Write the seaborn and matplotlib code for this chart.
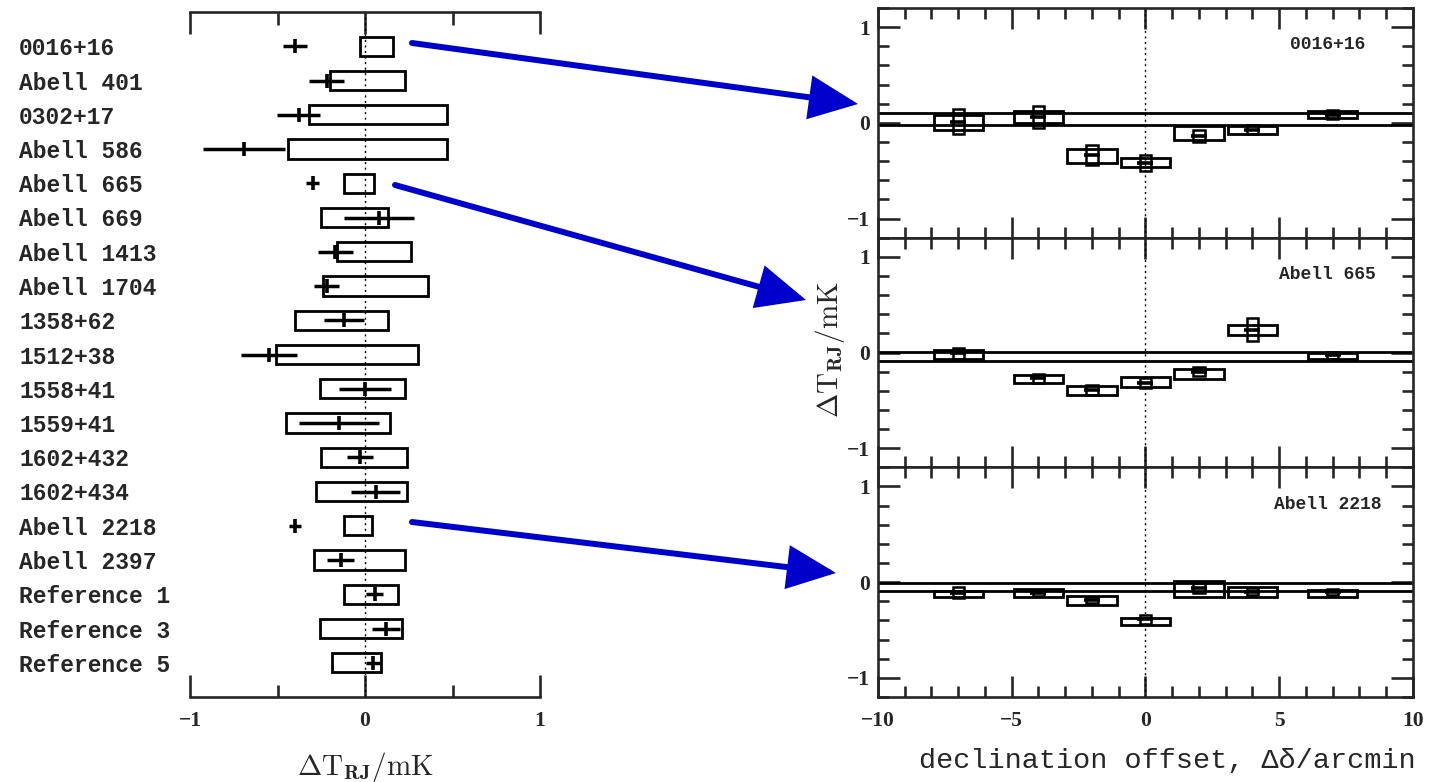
import numpy as np
import pandas as pd
import matplotlib
matplotlib.use("Agg")
import matplotlib.pyplot as plt
from matplotlib.patches import FancyArrowPatch, ArrowStyle
from matplotlib.ticker import MultipleLocator, FixedLocator
import seaborn as sns

# ---- cluster summary (left panel) ----
sources = ["0016+16", "Abell 401", "0302+17", "Abell 586", "Abell 665",
           "Abell 669", "Abell 1413", "Abell 1704", "1358+62", "1512+38",
           "1558+41", "1559+41", "1602+432", "1602+434", "Abell 2218",
           "Abell 2397", "Reference 1", "Reference 3", "Reference 5"]
model_lo = [-0.03, -0.20, -0.32, -0.44, -0.12, -0.25, -0.16, -0.24, -0.40, -0.51,
            -0.26, -0.45, -0.25, -0.28, -0.12, -0.29, -0.12, -0.26, -0.19]
model_hi = [0.16, 0.23, 0.47, 0.47, 0.05, 0.13, 0.26, 0.36, 0.13, 0.30,
            0.23, 0.14, 0.24, 0.24, 0.04, 0.23, 0.19, 0.21, 0.09]
dT = [-0.40, -0.22, -0.38, -0.69, -0.30, 0.08, -0.17, -0.22, -0.12, -0.55,
      0.00, -0.15, -0.03, 0.06, -0.40, -0.14, 0.055, 0.12, 0.045]
dT_err = [0.07, 0.10, 0.125, 0.235, 0.035, 0.20, 0.10, 0.07, 0.115, 0.16,
          0.15, 0.23, 0.075, 0.14, 0.035, 0.075, 0.05, 0.078, 0.04]

# ---- declination scans (right panels) ----
offsets = [-7, -4, -2, 0, 2, 4, 7]
scan_names = ["0016+16", "Abell 665", "Abell 2218"]

a0016_lo = [-0.07, 0.00, -0.42, -0.46, -0.18, -0.12, 0.05]
a0016_hi = [0.08, 0.12, -0.27, -0.37, -0.03, -0.035, 0.12]
a0016_val = [0.01, 0.06, -0.34, -0.42, -0.14, -0.07, 0.087]
a0016_err = [0.13, 0.115, 0.105, 0.08, 0.06, 0.045, 0.05]
a0016_band = [-0.02, 0.10]

a665_lo = [-0.07, -0.32, -0.44, -0.36, -0.28, 0.18, -0.065]
a665_hi = [0.025, -0.23, -0.35, -0.26, -0.17, 0.285, 0.00]
a665_val = [-0.01, -0.27, -0.39, -0.32, -0.20, 0.24, -0.03]
a665_err = [0.06, 0.05, 0.05, 0.05, 0.045, 0.12, 0.035]
a665_band = [-0.09, 0.01]

a2218_lo = [-0.16, -0.15, -0.235, -0.445, -0.15, -0.15, -0.15]
a2218_hi = [-0.09, -0.07, -0.14, -0.375, 0.01, -0.05, -0.08]
a2218_val = [-0.11, -0.11, -0.185, -0.39, -0.06, -0.10, -0.10]
a2218_err = [0.06, 0.03, 0.035, 0.045, 0.055, 0.035, 0.03]
a2218_band = [-0.09, -0.01]

scans = [
    (a0016_lo, a0016_hi, a0016_val, a0016_err, a0016_band),
    (a665_lo, a665_hi, a665_val, a665_err, a665_band),
    (a2218_lo, a2218_hi, a2218_val, a2218_err, a2218_band),
]

sns.set_style("ticks")
plt.rcParams["font.family"] = ["Liberation Mono", "DejaVu Sans Mono"]
plt.rcParams["mathtext.fontset"] = "cm"

W, H = 1430, 782
fig = plt.figure(figsize=(W / 100, H / 100), dpi=100)
fig.patch.set_facecolor("white")

ink = "black"
SPINE = 1.9

# ---------------- left panel ----------------
axl = fig.add_axes([190 / W, 1 - 697 / H, 350 / W, (697 - 12) / H])
rows = np.arange(len(sources))
left_df = pd.DataFrame({"row": rows, "dT": dT, "err": dT_err,
                        "lo": model_lo, "hi": model_hi})

axl.axvline(0, color=ink, lw=1.0, ls=(0, (1.5, 2.5)), zorder=1)
axl.barh(left_df["row"], left_df["hi"] - left_df["lo"], left=left_df["lo"],
         height=0.56, fill=False, edgecolor=ink, linewidth=2.0, zorder=2)
axl.errorbar(left_df["dT"], left_df["row"], xerr=left_df["err"], fmt="none",
             ecolor=ink, elinewidth=2.5, capsize=0, zorder=3)
sns.scatterplot(data=left_df, x="dT", y="row", marker="|", s=100,
                color=ink, linewidth=2.6, ax=axl, zorder=4, legend=False)

axl.set_xlim(-1, 1)
axl.set_ylim(len(sources), -1)
for side in ["left", "right"]:
    axl.spines[side].set_visible(False)
for side in ["top", "bottom"]:
    axl.spines[side].set_linewidth(SPINE)
axl.xaxis.set_major_locator(FixedLocator([-1, 0, 1]))
axl.xaxis.set_minor_locator(FixedLocator([-0.5, 0.5]))
axl.tick_params(axis="x", which="major", direction="in", length=16, width=SPINE,
                top=True, bottom=True, labelsize=15.5, pad=10)
axl.tick_params(axis="x", which="minor", direction="in", length=9, width=SPINE,
                top=True, bottom=True)
axl.set_xticklabels(["\u22121", "0", "1"], fontfamily="Liberation Serif",
                    fontweight="bold")
axl.set_yticks(rows)
axl.set_yticklabels(sources, ha="left", fontweight="bold", fontsize=16.5)
axl.tick_params(axis="y", length=0, pad=123)
axl.set_xlabel(r"$\Delta{\rm T}_{\bf RJ}/{\rm mK}$", fontsize=21, labelpad=14)
axl.set_ylabel("")

# ---------------- right panels ----------------
top_px, bot_px = 8, 697
ph = (bot_px - top_px) / 3
for i, (lo, hi, val, err, band) in enumerate(scans):
    ax = fig.add_axes([878 / W, 1 - (top_px + (i + 1) * ph) / H,
                       (1413 - 878) / W, ph / H])
    df = pd.DataFrame({"x": offsets, "lo": lo, "hi": hi, "val": val, "err": err})

    ax.axvline(0, color=ink, lw=1.0, ls=(0, (1.5, 2.5)), zorder=1)
    for b in band:
        ax.axhline(b, color=ink, lw=2.0, zorder=2)
    ax.bar(df["x"], df["hi"] - df["lo"], bottom=df["lo"], width=1.85,
           fill=False, edgecolor=ink, linewidth=2.0, zorder=3)
    ax.bar(df["x"], 2 * df["err"], bottom=df["val"] - df["err"], width=0.42,
           fill=False, edgecolor=ink, linewidth=1.8, zorder=4)
    sns.scatterplot(data=df, x="x", y="val", marker="_", s=130, color=ink,
                    linewidth=2.6, ax=ax, zorder=5, legend=False)

    ax.set_xlim(-10, 10)
    ax.set_ylim(-1.2, 1.2)
    for s in ax.spines.values():
        s.set_linewidth(SPINE)
    ax.xaxis.set_major_locator(MultipleLocator(5))
    ax.xaxis.set_minor_locator(MultipleLocator(1))
    ax.yaxis.set_major_locator(MultipleLocator(1))
    ax.yaxis.set_minor_locator(MultipleLocator(0.2))
    ax.tick_params(axis="x", which="major", direction="in", length=15,
                   width=SPINE, top=True, bottom=True)
    ax.tick_params(axis="x", which="minor", direction="in", length=8,
                   width=SPINE, top=True, bottom=True)
    ax.tick_params(axis="y", which="major", direction="in", length=16,
                   width=SPINE, left=True, right=True, labelsize=15.5, pad=6)
    ax.tick_params(axis="y", which="minor", direction="in", length=8,
                   width=SPINE, left=True, right=True)
    ax.set_yticks([-1, 0, 1])
    ax.set_yticklabels(["\u22121", "0", "1"], fontfamily="Liberation Serif",
                       fontweight="bold")
    ax.set_xlabel("")
    ax.set_ylabel("")
    ax.text(0.84, 0.84, scan_names[i], transform=ax.transAxes, ha="center",
            va="center", fontsize=13, fontweight="bold")
    if i < 2:
        ax.tick_params(axis="x", labelbottom=False)
    else:
        ax.set_xticks([-10, -5, 0, 5, 10])
        ax.set_xticklabels(["\u221210", "\u22125", "0", "5", "10"],
                           fontfamily="Liberation Serif", fontweight="bold",
                           fontsize=15.5)
        ax.tick_params(axis="x", pad=10)
        ax.set_xlabel("declination offset, \u0394\u03b4/arcmin", fontsize=20.5,
                      labelpad=12)
        ax.xaxis.label.set_x((1167 - 878) / (1413 - 878))

fig.text(830 / W, 1 - 350 / H, r"$\Delta{\rm T}_{\bf RJ}/{\rm mK}$",
         rotation=90, ha="center", va="center", fontsize=21)

# ---------------- connecting arrows ----------------
blue = "#0000CC"
arrow_paths = [((412, 43), (858, 104)),
               ((395, 185), (806, 300)),
               ((412, 522), (836, 573))]
style = ArrowStyle("-|>", head_length=1.0, head_width=0.45)
for (x0, y0), (x1, y1) in arrow_paths:
    arr = FancyArrowPatch((x0 / W, 1 - y0 / H), (x1 / W, 1 - y1 / H),
                          transform=fig.transFigure, arrowstyle=style,
                          mutation_scale=28, color=blue, lw=4.3,
                          shrinkA=0, shrinkB=0, joinstyle="miter")
    fig.add_artist(arr)

fig.savefig("out.png", dpi=100, facecolor="white")
